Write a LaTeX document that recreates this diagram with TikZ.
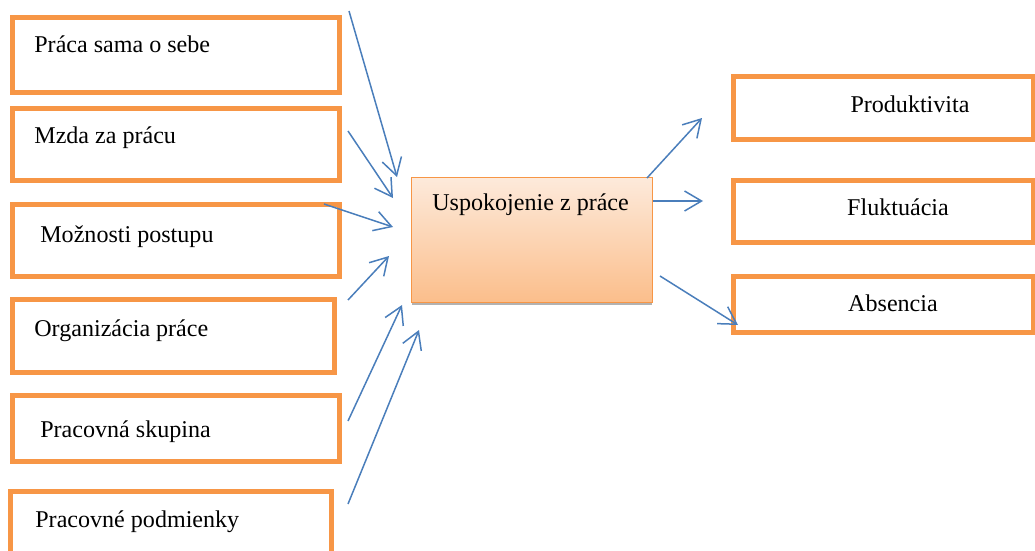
\documentclass[tikz,border=0pt]{standalone}
\usepackage{fontspec}
\setmainfont{Liberation Serif}
\usetikzlibrary{arrows.meta, shadows}
\definecolor{boxorange}{HTML}{F79646}
\definecolor{arrowblue}{HTML}{4A7EBB}
\definecolor{shadetop}{HTML}{FDEADB}
\definecolor{shadebottom}{HTML}{FBBE8B}

\begin{document}
\begin{tikzpicture}[x=0.02cm, y=-0.02cm,
  factor/.style={draw=boxorange, line width=0.1cm, minimum width=6.54cm, inner sep=0},
  effect/.style={draw=boxorange, line width=0.1cm, minimum width=6.01cm, inner sep=0},
  txt/.style={inner sep=0, font=\fontsize{13.7}{16}\selectfont},
  arrow/.style={draw=arrowblue, line width=0.03cm, -{Straight Barb[length=0.34cm, width=0.4cm]}}]
\useasboundingbox (0,0) rectangle (1035,551);

% left boxes: factors
\node[factor, minimum height=1.5cm] (work) at (176,55) {};
\node[factor, minimum height=1.44cm] (wage) at (176,144.5) {};
\node[factor, minimum height=1.44cm] (career) at (176,240.5) {};
\node[factor, minimum width=6.44cm, minimum height=1.46cm] (organisation) at (173.5,336) {};
\node[factor, minimum height=1.32cm] (team) at (176,428.5) {};
\node[factor, minimum width=6.42cm, minimum height=1.58cm] (conditions) at (171,530.5) {};
\node[txt, anchor=base west] (work text) at (34,52) {Práca sama o sebe};
\node[txt, anchor=base west] (wage text) at (34,143) {Mzda za prácu};
\node[txt, anchor=base west] (career text) at (40,242) {Možnosti postupu};
\node[txt, anchor=base west] (organisation text) at (34,336) {Organizácia práce};
\node[txt, anchor=base west] (team text) at (40,437) {Pracovná skupina};
\node[txt, anchor=base west] (conditions text) at (35,527) {Pracovné podmienky};

% centre box
\node[draw=boxorange, line width=0.03cm, top color=shadetop, bottom color=shadebottom,
  drop shadow={shadow xshift=0cm, shadow yshift=-0.06cm, fill=gray!60, opacity=1},
  minimum width=4.82cm, minimum height=2.5cm, inner sep=0] (satisfaction) at (532,240) {};
\node[txt, anchor=base west] (satisfaction text) at (432,210) {Uspokojenie z práce};

% right boxes: effects
\node[effect, minimum height=1.26cm] (productivity) at (883.75,108) {};
\node[effect, minimum height=1.24cm] (turnover) at (883.75,211.5) {};
\node[effect, minimum height=1.12cm] (absence) at (883.75,304.5) {};
\node[txt, anchor=base] (productivity text) at (910,112) {Produktivita};
\node[txt, anchor=base] (turnover text) at (898,215) {Fluktuácia};
\node[txt, anchor=base] (absence text) at (893,311) {Absencia};

% arrows
\coordinate (in1 tail) at (349,11);  \coordinate (in1 head) at (397,177);
\coordinate (in2 tail) at (348,131); \coordinate (in2 head) at (393,198);
\coordinate (in3 tail) at (324,204); \coordinate (in3 head) at (393,227);
\coordinate (in4 tail) at (348,300); \coordinate (in4 head) at (389,256);
\coordinate (in5 tail) at (348,421); \coordinate (in5 head) at (402,305);
\coordinate (in6 tail) at (348,504); \coordinate (in6 head) at (419,330);
\coordinate (out1 tail) at (647,178); \coordinate (out1 head) at (702,118);
\coordinate (out2 tail) at (653,201); \coordinate (out2 head) at (703,201);
\coordinate (out3 tail) at (660,276); \coordinate (out3 head) at (738,325);
\foreach \a in {in1, in2, in3, in4, in5, in6, out1, out2, out3}
  \draw[arrow] (\a\space tail) -- (\a\space head);

\end{tikzpicture}
\end{document}
